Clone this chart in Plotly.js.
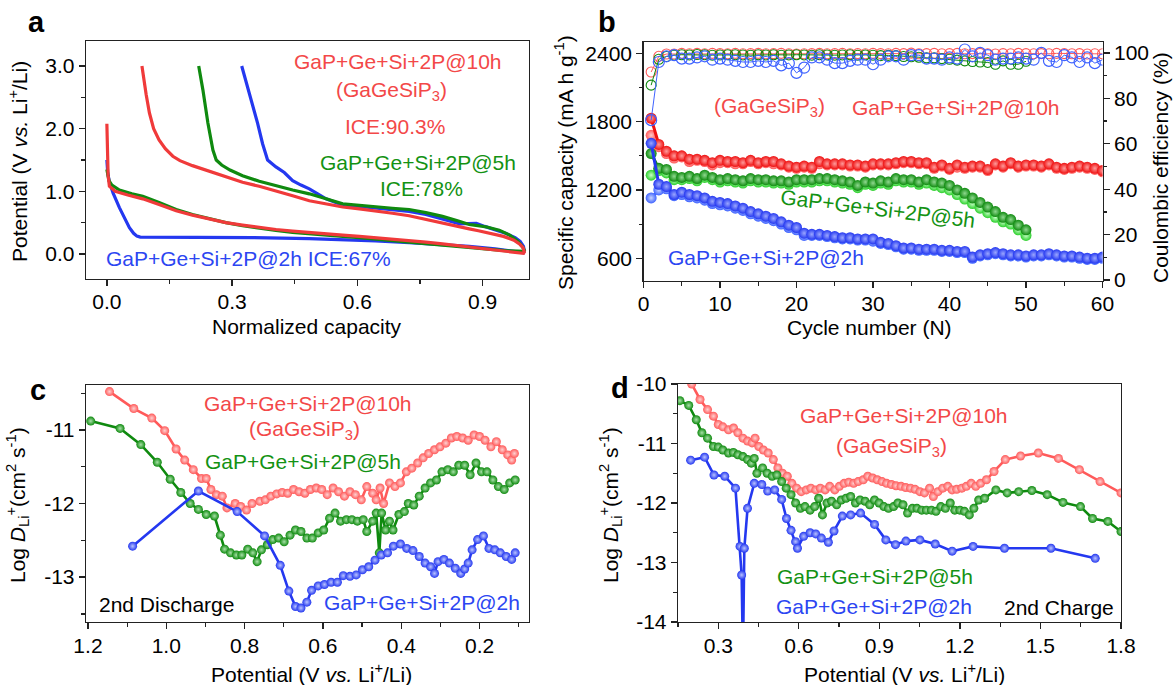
<!DOCTYPE html>
<html><head><meta charset="utf-8">
<script src="https://cdn.plot.ly/plotly-3.0.1.min.js"></script>
<style>html,body{margin:0;padding:0;background:#fff}#chart{width:1175px;height:685px}</style>
</head><body><div id="chart"></div>
<script>
// ---------- Panel a: normalized charge/discharge curves ----------
const aRedX = [0,0.001,0.003,0.006,0.02,0.05,0.086,0.125,0.166,0.205,0.246,0.285,0.325,0.365,0.405,0.445,0.485,0.525,0.565,0.605,0.644,0.684,0.724,0.764,0.804,0.835,0.868,0.9,0.93,0.96,0.985,0.998,
  1.0,0.997,0.99,0.975,0.95,0.92,0.89,0.868,0.835,0.804,0.764,0.724,0.684,0.644,0.605,0.565,0.525,0.485,0.445,0.405,0.365,0.325,0.285,0.246,0.205,0.175,0.158,0.14,0.125,0.112,0.102,0.094,0.088,0.084];
const aRedY = [2.08,1.6,1.25,1.08,1.0,0.94,0.88,0.79,0.69,0.62,0.555,0.5,0.46,0.42,0.39,0.365,0.34,0.32,0.3,0.28,0.26,0.24,0.22,0.19,0.16,0.135,0.11,0.085,0.06,0.04,0.02,0.01,
  0.03,0.1,0.15,0.22,0.28,0.33,0.37,0.4,0.45,0.5,0.56,0.61,0.65,0.69,0.72,0.75,0.8,0.85,0.93,1.01,1.08,1.145,1.23,1.31,1.41,1.49,1.56,1.68,1.82,2.0,2.25,2.55,2.8,3.0];
const aGreenX = [0,0.002,0.005,0.012,0.03,0.06,0.086,0.125,0.166,0.205,0.246,0.285,0.325,0.365,0.405,0.445,0.485,0.525,0.565,0.605,0.644,0.684,0.724,0.764,0.804,0.835,0.868,0.9,0.93,0.96,0.985,0.998,
  1.0,0.995,0.985,0.965,0.94,0.91,0.88,0.868,0.84,0.804,0.764,0.724,0.684,0.644,0.605,0.565,0.525,0.485,0.445,0.405,0.365,0.325,0.295,0.275,0.262,0.254,0.242,0.23,0.22];
const aGreenY = [1.35,1.24,1.17,1.1,1.02,0.96,0.92,0.82,0.71,0.63,0.56,0.5,0.45,0.41,0.375,0.345,0.32,0.3,0.28,0.26,0.24,0.215,0.19,0.165,0.14,0.12,0.095,0.075,0.06,0.05,0.045,0.04,
  0.06,0.12,0.2,0.3,0.38,0.43,0.46,0.47,0.53,0.6,0.66,0.71,0.73,0.75,0.77,0.8,0.88,0.96,1.02,1.09,1.16,1.25,1.34,1.42,1.5,1.66,2.09,2.62,3.0];
const aBlueX = [0,0.002,0.006,0.015,0.03,0.042,0.054,0.064,0.072,0.08,0.15,0.246,0.35,0.485,0.56,0.644,0.724,0.804,0.868,0.93,0.97,0.998,
  1.0,0.998,0.99,0.978,0.955,0.93,0.905,0.885,0.865,0.845,0.825,0.804,0.764,0.724,0.684,0.644,0.605,0.565,0.545,0.525,0.505,0.485,0.465,0.445,0.425,0.405,0.385,0.373,0.361,0.341,0.323];
const aBlueY = [1.5,1.3,1.15,0.97,0.74,0.58,0.42,0.33,0.285,0.27,0.27,0.27,0.26,0.245,0.23,0.21,0.18,0.15,0.12,0.08,0.05,0.02,
  0.05,0.12,0.2,0.26,0.33,0.38,0.44,0.49,0.49,0.48,0.52,0.56,0.63,0.68,0.71,0.74,0.76,0.78,0.83,0.88,0.96,1.04,1.1,1.17,1.3,1.39,1.5,1.76,2.09,2.57,3.0];

// ---------- Panel b: cycling ----------
const cycles60 = [1,2,3,4,5,6,7,8,9,10,11,12,13,14,15,16,17,18,19,20,21,22,23,24,25,26,27,28,29,30,31,32,33,34,35,36,37,38,39,40,41,42,43,44,45,46,47,48,49,50,51,52,53,54,55,56,57,58,59,60];
const cycles50 = [1,2,3,4,5,6,7,8,9,10,11,12,13,14,15,16,17,18,19,20,21,22,23,24,25,26,27,28,29,30,31,32,33,34,35,36,37,38,39,40,41,42,43,44,45,46,47,48,49,50];
const capRedA = [1830,1600,1540,1500,1500,1470,1470,1460,1440,1460,1450,1450,1440,1460,1440,1450,1450,1430,1410,1400,1410,1400,1450,1430,1430,1430,1420,1420,1410,1430,1430,1430,1440,1450,1450,1440,1440,1400,1420,1390,1420,1400,1410,1410,1380,1430,1410,1440,1410,1420,1420,1410,1430,1400,1390,1400,1410,1400,1390,1370];
const capRedB = [1680,1580,1520,1480,1490,1450,1460,1450,1420,1440,1440,1430,1430,1450,1430,1440,1430,1420,1400,1390,1400,1390,1430,1420,1420,1420,1410,1410,1400,1420,1420,1420,1430,1440,1440,1430,1430,1390,1410,1380,1400,1390,1400,1400,1370,1420,1400,1430,1400,1410,1410,1400,1420,1390,1380,1390,1400,1390,1380,1360];
const capGreenA = [1520,1390,1380,1320,1310,1320,1300,1330,1310,1290,1300,1290,1280,1300,1290,1290,1280,1280,1270,1290,1290,1290,1300,1300,1290,1280,1270,1240,1270,1260,1280,1270,1300,1290,1290,1270,1290,1270,1260,1240,1200,1170,1130,1090,1050,1010,960,940,890,850];
const capGreenB = [1330,1370,1350,1290,1290,1300,1280,1310,1290,1270,1280,1270,1260,1280,1270,1270,1260,1260,1250,1270,1270,1270,1280,1280,1270,1260,1250,1220,1250,1240,1260,1250,1280,1270,1270,1250,1260,1240,1220,1200,1160,1120,1080,1040,1000,960,920,900,850,800];
const capBlueA = [1610,1250,1230,1160,1180,1160,1150,1130,1100,1090,1080,1060,1040,1010,990,970,950,920,890,870,820,810,810,800,790,780,780,770,770,770,740,730,710,690,690,680,680,680,670,670,660,660,610,630,640,650,640,630,630,620,630,630,640,630,620,620,610,600,600,610];
const capBlueB = [1130,1200,1210,1150,1160,1140,1130,1110,1080,1070,1060,1040,1020,990,970,950,930,900,870,850,800,800,800,790,780,770,770,760,760,750,730,720,700,680,680,670,670,670,660,660,650,650,600,620,630,640,630,620,620,610,620,620,630,620,610,610,600,590,590,600];
const ceRed = [91.6,98.5,99.5,99.5,99.8,99.6,99.8,99.6,99.8,99.7,99.6,99.8,99.6,99.7,99.8,99.6,99.7,99.8,99.6,99.5,99.6,99.7,99.8,99.6,99.7,99.8,99.6,99.7,99.6,99.8,99.7,99.6,99.8,99.7,99.9,99.6,99.7,99.8,99.6,99.7,99.8,99.6,99.7,99.8,99.6,99.5,99.7,99.6,99.8,99.7,99.6,99.7,99.6,99.8,99.7,99.6,99.7,99.5,99.6,99.6];
const ceGreen = [85.8,97.2,98.4,99,99.2,99.1,99.3,99.2,99,99.1,99.2,99.2,99.1,99,99.2,99.1,99.2,99,99.1,99.2,99.1,99,99.2,99.1,99,99.1,99.2,99,99.1,99,98.8,98.9,98.8,98.4,98.3,98.1,97.8,97.8,97.5,97.2,96.8,96.5,96.2,96,95.8,95,96.5,95,95,96.3];
const ceBlue = [70.4,96,98.5,99,97.5,97.5,98,98.5,97,97.5,97,96.5,96,96,96.5,96,96.5,94.5,95.5,91.2,93.5,98,98,97,95.5,95.5,96.5,97,97,95,97,98.5,98.5,97,99,99,97.5,97.5,97,98,97.5,101.5,98.5,100,99,97,97.5,97.5,98,97.5,97,100,96.5,96,99,98,96,98,95.5,97];

// ---------- Panel c: 2nd discharge diffusion ----------
const cRedX = [1.145,1.083,1.037,1.004,0.975,0.953,0.931,0.910,0.898,0.886,0.872,0.857,0.845,0.824,0.810,0.795,0.781,0.761,0.747,0.733,0.718,0.704,0.690,0.675,0.661,0.646,0.632,0.617,0.603,0.589,0.574,0.560,0.545,0.531,0.517,0.502,0.488,0.473,0.464,0.454,0.445,0.430,0.416,0.402,0.387,0.373,0.358,0.344,0.330,0.315,0.301,0.286,0.272,0.258,0.243,0.229,0.214,0.200,0.186,0.171,0.157,0.142,0.128,0.118,0.111];
const cRedY = [-10.48,-10.71,-10.84,-11.01,-11.26,-11.41,-11.54,-11.66,-11.66,-11.81,-11.88,-11.90,-12.06,-12.00,-12.04,-12.09,-12.00,-11.97,-11.95,-11.90,-11.87,-11.85,-11.86,-11.81,-11.84,-11.86,-11.81,-11.79,-11.81,-11.88,-11.79,-11.84,-11.90,-11.84,-11.88,-11.95,-11.77,-11.86,-11.95,-11.79,-12.00,-11.72,-11.77,-11.72,-11.57,-11.52,-11.45,-11.38,-11.32,-11.27,-11.23,-11.18,-11.11,-11.09,-11.11,-11.14,-11.07,-11.09,-11.14,-11.23,-11.16,-11.27,-11.34,-11.41,-11.32];
const cGreenX = [1.193,1.118,1.065,1.023,0.990,0.963,0.939,0.918,0.898,0.877,0.862,0.851,0.836,0.821,0.807,0.792,0.779,0.768,0.757,0.742,0.728,0.713,0.699,0.684,0.670,0.656,0.641,0.627,0.612,0.598,0.583,0.569,0.555,0.540,0.526,0.512,0.497,0.488,0.473,0.464,0.456,0.450,0.440,0.430,0.421,0.406,0.392,0.382,0.368,0.354,0.339,0.325,0.310,0.296,0.281,0.267,0.253,0.238,0.224,0.209,0.195,0.181,0.166,0.152,0.137,0.123,0.109];
const cGreenY = [-10.88,-10.98,-11.20,-11.44,-11.67,-11.85,-12.00,-12.08,-12.15,-12.17,-12.43,-12.62,-12.67,-12.70,-12.70,-12.62,-12.67,-12.79,-12.63,-12.56,-12.49,-12.47,-12.52,-12.43,-12.36,-12.38,-12.47,-12.47,-12.40,-12.36,-12.20,-12.13,-12.24,-12.22,-12.22,-12.24,-12.22,-12.38,-12.24,-12.13,-12.67,-12.13,-12.36,-12.24,-12.36,-12.15,-12.11,-12.00,-12.02,-11.90,-11.79,-11.72,-11.68,-11.57,-11.54,-11.57,-11.48,-11.48,-11.61,-11.45,-11.57,-11.57,-11.68,-11.77,-11.81,-11.72,-11.68];
const cBlueX = [1.086,0.918,0.819,0.749,0.709,0.687,0.670,0.656,0.641,0.629,0.612,0.596,0.579,0.563,0.548,0.531,0.515,0.499,0.483,0.467,0.451,0.435,0.420,0.402,0.386,0.370,0.354,0.339,0.325,0.315,0.306,0.291,0.277,0.262,0.248,0.238,0.229,0.219,0.205,0.190,0.176,0.161,0.147,0.132,0.118,0.109];
const cBlueY = [-12.58,-11.83,-12.11,-12.44,-12.84,-13.19,-13.40,-13.42,-13.34,-13.18,-13.12,-13.10,-13.07,-13.07,-12.98,-12.99,-12.97,-12.90,-12.86,-12.77,-12.70,-12.67,-12.58,-12.55,-12.61,-12.64,-12.72,-12.81,-12.86,-12.95,-12.79,-12.76,-12.81,-12.88,-12.95,-12.89,-12.81,-12.63,-12.49,-12.44,-12.61,-12.63,-12.67,-12.72,-12.76,-12.67];

// ---------- Panel d: 2nd charge diffusion ----------
const dRedX = [0.201,0.232,0.260,0.282,0.300,0.317,0.338,0.357,0.373,0.392,0.409,0.426,0.437,0.451,0.468,0.486,0.505,0.522,0.539,0.557,0.574,0.592,0.609,0.628,0.645,0.663,0.680,0.698,0.715,0.734,0.751,0.769,0.786,0.804,0.821,0.840,0.857,0.875,0.892,0.910,0.927,0.945,0.962,0.981,0.998,1.016,1.033,1.051,1.068,1.087,1.101,1.118,1.136,1.155,1.171,1.188,1.207,1.224,1.242,1.259,1.277,1.299,1.327,1.369,1.426,1.492,1.567,1.645,1.722,1.800];
const dRedY = [-10.00,-10.26,-10.43,-10.54,-10.68,-10.72,-10.77,-10.74,-10.82,-10.91,-10.96,-10.99,-10.91,-11.05,-11.11,-11.16,-11.27,-11.41,-11.50,-11.55,-11.67,-11.75,-11.81,-11.78,-11.75,-11.78,-11.75,-11.78,-11.72,-11.78,-11.72,-11.67,-11.65,-11.67,-11.64,-11.61,-11.55,-11.58,-11.61,-11.64,-11.67,-11.69,-11.71,-11.72,-11.74,-11.75,-11.77,-11.81,-11.83,-11.75,-11.89,-11.81,-11.75,-11.72,-11.78,-11.77,-11.75,-11.72,-11.67,-11.72,-11.67,-11.61,-11.47,-11.27,-11.21,-11.16,-11.25,-11.44,-11.64,-11.83];
const dGreenX = [0.157,0.190,0.218,0.239,0.260,0.282,0.300,0.317,0.338,0.356,0.373,0.392,0.409,0.423,0.434,0.444,0.465,0.482,0.501,0.518,0.536,0.553,0.571,0.588,0.606,0.623,0.642,0.659,0.674,0.688,0.705,0.722,0.741,0.758,0.776,0.793,0.811,0.828,0.847,0.864,0.882,0.899,0.917,0.934,0.953,0.969,0.988,1.005,1.023,1.040,1.058,1.075,1.094,1.111,1.129,1.146,1.164,1.181,1.200,1.217,1.235,1.252,1.270,1.292,1.334,1.376,1.419,1.468,1.525,1.584,1.649,1.694,1.751,1.800];
const dGreenY = [-10.28,-10.36,-10.60,-10.82,-10.91,-11.05,-11.06,-11.11,-11.16,-11.15,-11.19,-11.22,-11.27,-11.33,-11.25,-11.50,-11.41,-11.50,-11.55,-11.53,-11.64,-11.75,-11.86,-12.00,-12.09,-12.06,-12.12,-12.06,-11.92,-12.20,-12.00,-11.97,-12.03,-11.95,-11.92,-11.89,-12.00,-11.95,-11.97,-12.03,-11.95,-12.00,-12.06,-12.09,-12.06,-12.00,-12.03,-12.17,-12.09,-12.09,-12.12,-12.12,-12.12,-12.14,-12.06,-12.09,-12.00,-12.12,-12.12,-12.14,-12.20,-12.09,-11.95,-11.92,-11.78,-11.83,-11.81,-11.79,-11.86,-11.99,-12.06,-12.26,-12.31,-12.48];
const dBlueX = [0.197,0.249,0.284,0.324,0.364,0.381,0.387,0.392,0.397,0.409,0.434,0.462,0.484,0.510,0.536,0.554,0.571,0.588,0.595,0.618,0.642,0.663,0.684,0.710,0.731,0.762,0.793,0.830,0.882,0.924,0.960,0.999,1.051,1.108,1.171,1.249,1.366,1.539,1.704];
const dBlueY = [-11.28,-11.23,-11.53,-11.55,-11.75,-12.73,-13.21,-14.6,-12.76,-12.09,-11.67,-11.69,-11.80,-11.78,-11.94,-12.26,-12.46,-12.65,-12.76,-12.56,-12.50,-12.52,-12.59,-12.66,-12.47,-12.22,-12.20,-12.17,-12.36,-12.62,-12.70,-12.64,-12.62,-12.69,-12.81,-12.73,-12.76,-12.76,-12.93];

const logTickVals = [-14,-13,-12,-11,-10];
const logTickText = ['-14','-13','-12','-11','-10'];
const cbTickVals = [-13,-12,-11];
const cbTickText = ['-13','-12','-11'];

// ---------- styling ----------
const W = 1175, H = 685;
const FONT = 'Liberation Sans, Arial, sans-serif';
const RED = '#f03a3a', RED2 = '#ff5a5a', GREEN = '#0f8a0f', GREEN2 = '#2ccf2c', BLUE = '#2438f0', BLUE2 = '#3f63ff';
const TRED = '#f34848', TGREEN = '#139213', TBLUE = '#2c46f2';
const px = x => x / W, py = y => 1 - y / H;

function sphere(color, hi, size) {
  return {color: color, size: size, gradient: {type: 'radial', color: hi}, line: {width: 0}};
}
function axisBase(extra) {
  return Object.assign({
    showline: true, linecolor: '#222', linewidth: 1.3, mirror: true,
    ticks: 'outside', ticklen: 6, tickwidth: 1.3, tickcolor: '#222',
    showgrid: false, zeroline: false, fixedrange: true,
    tickfont: {family: FONT, size: 21, color: '#000'}
  }, extra);
}
function ann(text, x, y, color, size, extra) {
  return Object.assign({text: text, x: px(x), y: py(y), xref: 'paper', yref: 'paper',
    xanchor: 'center', yanchor: 'middle', showarrow: false,
    font: {family: FONT, size: size || 21, color: color || '#000'}}, extra || {});
}

const traces = [
  // panel a
  {x: aBlueX, y: aBlueY, xaxis: 'x', yaxis: 'y', mode: 'lines', line: {color: BLUE, width: 3.2}},
  {x: aGreenX, y: aGreenY, xaxis: 'x', yaxis: 'y', mode: 'lines', line: {color: GREEN, width: 3.2}},
  {x: aRedX, y: aRedY, xaxis: 'x', yaxis: 'y', mode: 'lines', line: {color: RED, width: 3.2}},
  // panel b CE (right axis)
  {x: cycles60, y: ceRed, xaxis: 'x2', yaxis: 'y5', mode: 'lines+markers', line: {color: RED2, width: 1},
    marker: {symbol: 'circle-open', size: 10, color: RED2, line: {width: 1.1}}},
  {x: cycles50, y: ceGreen, xaxis: 'x2', yaxis: 'y5', mode: 'lines+markers', line: {color: GREEN, width: 1},
    marker: {symbol: 'circle-open', size: 10, color: GREEN, line: {width: 1.1}}},
  {x: cycles60, y: ceBlue, xaxis: 'x2', yaxis: 'y5', mode: 'lines+markers', line: {color: BLUE2, width: 1},
    marker: {symbol: 'circle-open', size: 11, color: BLUE2, line: {width: 1.2}}},
  // panel b capacities
  {x: cycles60, y: capRedB, xaxis: 'x2', yaxis: 'y2', mode: 'lines+markers', line: {color: RED2, width: 3}, marker: sphere(RED2, '#ffc8c8', 11)},
  {x: cycles60, y: capRedA, xaxis: 'x2', yaxis: 'y2', mode: 'lines+markers', line: {color: '#ee1010', width: 3}, marker: sphere('#ee1010', '#ff9a9a', 11)},
  {x: cycles50, y: capGreenB, xaxis: 'x2', yaxis: 'y2', mode: 'lines+markers', line: {color: GREEN2, width: 3}, marker: sphere(GREEN2, '#c8ffc8', 11)},
  {x: cycles50, y: capGreenA, xaxis: 'x2', yaxis: 'y2', mode: 'lines+markers', line: {color: GREEN, width: 3}, marker: sphere(GREEN, '#8fd88f', 11)},
  {x: cycles60, y: capBlueB, xaxis: 'x2', yaxis: 'y2', mode: 'lines+markers', line: {color: BLUE2, width: 3}, marker: sphere(BLUE2, '#c8d4ff', 11)},
  {x: cycles60, y: capBlueA, xaxis: 'x2', yaxis: 'y2', mode: 'lines+markers', line: {color: BLUE, width: 3}, marker: sphere(BLUE, '#9aa6ff', 11)},
  // panel c
  {x: cRedX, y: cRedY, xaxis: 'x3', yaxis: 'y3', mode: 'lines+markers', line: {color: RED2, width: 2.6}, marker: sphere(RED2, '#ffd0d0', 9)},
  {x: cGreenX, y: cGreenY, xaxis: 'x3', yaxis: 'y3', mode: 'lines+markers', line: {color: GREEN, width: 2.6}, marker: sphere(GREEN, '#a8e0a8', 9)},
  {x: cBlueX, y: cBlueY, xaxis: 'x3', yaxis: 'y3', mode: 'lines+markers', line: {color: BLUE, width: 2.6}, marker: sphere(BLUE, '#b8c2ff', 9)},
  // panel d
  {x: dRedX, y: dRedY, xaxis: 'x4', yaxis: 'y4', mode: 'lines+markers', line: {color: RED2, width: 2.6}, marker: sphere(RED2, '#ffd0d0', 9)},
  {x: dGreenX, y: dGreenY, xaxis: 'x4', yaxis: 'y4', mode: 'lines+markers', line: {color: GREEN, width: 2.6}, marker: sphere(GREEN, '#a8e0a8', 9)},
  {x: dBlueX, y: dBlueY, xaxis: 'x4', yaxis: 'y4', mode: 'lines+markers', line: {color: BLUE, width: 2.6}, marker: sphere(BLUE, '#b8c2ff', 9)}
];

const minor = (d) => ({ticks: 'outside', ticklen: 3.5, tickwidth: 1.2, tickcolor: '#222', dtick: d});

const layout = {
  width: W, height: H, showlegend: false,
  paper_bgcolor: '#fff', plot_bgcolor: '#fff',
  margin: {l: 0, r: 0, t: 0, b: 0},
  font: {family: FONT, size: 21, color: '#000'},
  // panel a
  xaxis: axisBase({domain: [px(86), px(528.5)], anchor: 'y', range: [-0.05, 1.01], tick0: 0, dtick: 0.3, tickformat: '.1f', ticklabelstandoff: -3, minor: minor(0.15)}),
  yaxis: axisBase({domain: [py(279), py(41)], anchor: 'x', range: [-0.4, 3.4], tick0: 0, dtick: 1, tickformat: '.1f', minor: minor(0.5)}),
  // panel b
  xaxis2: axisBase({domain: [px(643.5), px(1102.5)], anchor: 'y2', range: [0, 60], tick0: 0, dtick: 10, ticklabelstandoff: -3, minor: minor(5)}),
  yaxis2: axisBase({domain: [py(281), py(42)], anchor: 'x2', range: [400, 2500], tick0: 600, dtick: 600, mirror: false, minor: minor(300)}),
  yaxis5: axisBase({domain: [py(281), py(42)], anchor: 'x2', overlaying: 'y2', side: 'right', range: [-0.4, 104.8], tick0: 0, dtick: 20, mirror: false, minor: minor(10)}),
  // panel c
  xaxis3: axisBase({domain: [px(86), px(528.5)], anchor: 'y3', range: [1.205, 0.075], tick0: 0, dtick: 0.2, tickformat: '.1f', ticklabelstandoff: -2, minor: minor(0.1)}),
  yaxis3: axisBase({domain: [py(622), py(385)], anchor: 'x3', range: [-13.61, -10.39], tickmode: 'array', tickvals: cbTickVals, ticktext: cbTickText, minor: {ticks: 'outside', ticklen: 3.5, tickwidth: 1.2, tickcolor: '#222', tick0: -14, dtick: 0.5}}),
  // panel d
  xaxis4: axisBase({domain: [px(678), px(1121)], anchor: 'y4', range: [0.15, 1.8], tick0: 0, dtick: 0.3, tickformat: '.1f', ticklabelstandoff: -2, minor: minor(0.15)}),
  yaxis4: axisBase({domain: [py(622), py(384)], anchor: 'x4', range: [-14, -10], tickmode: 'array', tickvals: logTickVals, ticktext: logTickText, minor: {ticks: 'outside', ticklen: 3.5, tickwidth: 1.2, tickcolor: '#222', tick0: -14, dtick: 0.5}}),
  annotations: [
    // panel letters
    ann('<b>a</b>', 36, 22, '#000', 29),
    ann('<b>b</b>', 607, 22, '#000', 29),
    ann('<b>c</b>', 38, 390, '#000', 29),
    ann('<b>d</b>', 620, 388, '#000', 29),
    // axis titles
    ann('Normalized capacity', 307, 326),
    ann('Potential (V <i>vs.</i> Li<sup>+</sup>/Li)', 18, 162, '#000', 21, {textangle: -90}),
    ann('Cycle number (N)', 869, 327),
    ann('Specific capacity (mA h g<sup>-1</sup>)', 564, 163, '#000', 21, {textangle: -90}),
    ann('Coulombic efficiency (%)', 1160, 168, '#000', 21, {textangle: -90}),
    ann('Potential (V <i>vs.</i> Li<sup>+</sup>/Li)', 312, 673),
    ann('Log <i>D</i><sub>Li</sub><sup>+</sup>(cm<sup>2</sup> s<sup>-1</sup>)', 17, 505, '#000', 21, {textangle: -90}),
    ann('Potential (V <i>vs.</i> Li<sup>+</sup>/Li)', 904, 673),
    ann('Log <i>D</i><sub>Li</sub><sup>+</sup>(cm<sup>2</sup> s<sup>-1</sup>)', 610, 505, '#000', 21, {textangle: -90}),
    // panel a labels
    ann('GaP+Ge+Si+2P@10h', 398, 62, TRED),
    ann('(GaGeSiP<sub>3</sub>)', 391, 91, TRED),
    ann('ICE:90.3%', 395, 126, TRED),
    ann('GaP+Ge+Si+2P@5h', 418, 163, TGREEN),
    ann('ICE:78%', 421, 189, TGREEN),
    ann('GaP+Ge+Si+2P@2h ICE:67%', 248, 258, TBLUE),
    // panel b labels
    ann('(GaGeSiP<sub>3</sub>)', 770, 107, TRED),
    ann('GaP+Ge+Si+2P@10h', 956, 107, TRED),
    ann('GaP+Ge+Si+2P@5h', 878, 208, TGREEN, 21, {textangle: 7}),
    ann('GaP+Ge+Si+2P@2h', 766, 257, TBLUE),
    // panel c labels
    ann('GaP+Ge+Si+2P@10h', 308, 403, TRED),
    ann('(GaGeSiP<sub>3</sub>)', 304, 430, TRED),
    ann('GaP+Ge+Si+2P@5h', 303, 461, TGREEN),
    ann('GaP+Ge+Si+2P@2h', 422, 602, TBLUE),
    ann('2nd Discharge', 166, 604),
    // panel d labels
    ann('GaP+Ge+Si+2P@10h', 904, 415, TRED),
    ann('(GaGeSiP<sub>3</sub>)', 891, 447, TRED),
    ann('GaP+Ge+Si+2P@5h', 875, 576, TGREEN),
    ann('GaP+Ge+Si+2P@2h', 874, 606, TBLUE),
    ann('2nd Charge', 1059, 607)
  ]
};

Plotly.newPlot('chart', traces, layout, {staticPlot: true, displayModeBar: false});
</script>
</body></html>
